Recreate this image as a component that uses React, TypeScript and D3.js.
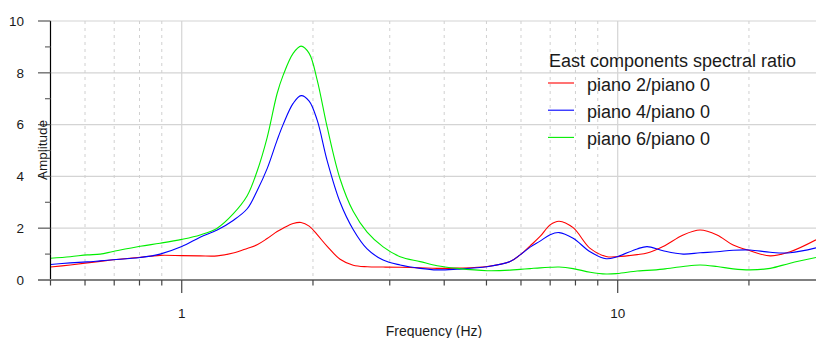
import React from "react";
import * as d3 from "d3";

// frequencies (Hz)
const freq = [
  0.5, 0.555, 0.607, 0.65, 0.696, 0.803, 0.892, 1.0, 1.102, 1.206, 1.312, 1.413,
  1.489, 1.57, 1.655, 1.708, 1.801, 1.878, 1.96, 2.045, 2.156, 2.308, 2.473,
  2.662, 2.897, 3.169, 3.523, 3.853, 4.281, 5.017, 5.665, 5.972, 6.298, 6.637,
  6.998, 7.338, 7.902, 8.644, 9.406, 9.97, 11.08, 11.68, 12.71, 14.13, 15.45,
  16.9, 18.4, 20.12, 22.37, 24.86, 28.5,
];

const piano2 = [
  0.5, 0.58, 0.66, 0.72, 0.78, 0.88, 0.95, 0.94, 0.93, 0.93, 1.04, 1.22, 1.36,
  1.6, 1.87, 2.0, 2.18, 2.22, 2.08, 1.75, 1.3, 0.8, 0.57, 0.51, 0.5, 0.49, 0.47,
  0.45, 0.46, 0.52, 0.71, 0.97, 1.32, 1.68, 2.13, 2.27, 2.02, 1.22, 0.91, 0.9,
  0.98, 1.04, 1.29, 1.74, 1.93, 1.74, 1.35, 1.13, 0.93, 1.09, 1.55,
];

const piano4 = [
  0.6, 0.66, 0.7, 0.74, 0.78, 0.87, 1.0, 1.29, 1.65, 1.93, 2.3, 2.75, 3.45, 4.3,
  5.4, 6.0, 6.82, 7.12, 6.91, 6.17, 4.6, 3.0, 1.95, 1.2, 0.77, 0.58, 0.45, 0.39,
  0.42, 0.51, 0.71, 0.97, 1.27, 1.5, 1.75, 1.83, 1.61, 1.09, 0.82, 0.9, 1.2,
  1.29, 1.13, 1.0, 1.05, 1.09, 1.15, 1.16, 1.07, 1.05, 1.24,
];

const piano6 = [
  0.84, 0.9, 0.97, 1.0, 1.1, 1.3, 1.42, 1.57, 1.74, 2.0, 2.55, 3.25, 4.2, 5.5,
  7.2, 7.9, 8.75, 9.03, 8.75, 7.72, 5.9, 3.9, 2.65, 1.85, 1.28, 0.9, 0.71, 0.55,
  0.45, 0.36, 0.38, 0.41, 0.44, 0.47, 0.49, 0.5, 0.44, 0.3, 0.23, 0.25, 0.35,
  0.37, 0.42, 0.52, 0.58, 0.52, 0.43, 0.39, 0.45, 0.65, 0.87,
];

const seriesNames = ["piano 2/piano 0", "piano 4/piano 0", "piano 6/piano 0"];
const seriesColors = ["#ff0000", "#0000ff", "#00ee00"];
const legendTitle = "East components spectral ratio";

const xMajor = [1, 10];
const xMinor = [0.5, 0.6, 0.7, 0.8, 0.9, 2, 3, 4, 5, 6, 7, 8, 9, 20];
const yMajor = [0, 2, 4, 6, 8, 10];
const yMinor = [1, 3, 5, 7, 9];

const width = 816;
const height = 338;
const font = "'Liberation Sans', Arial, sans-serif";

export default function App() {
  const x = d3.scaleLog().domain([0.5, 28.5]).range([50.5, 816]);
  const y = d3.scaleLinear().domain([0, 10]).range([280, 21]);

  const line = d3
    .line<number>()
    .x((_, i) => x(freq[i]))
    .y((d) => y(d))
    .curve(d3.curveCatmullRom.alpha(0.5));

  const series = [piano2, piano4, piano6];

  return (
    <svg
      width={width}
      height={height}
      style={{ position: "absolute", left: 0, top: 0 }}
      fontFamily={font}
    >
      {/* horizontal grid */}
      {yMajor
        .filter((v) => v > 0)
        .map((v) => (
          <line
            key={"hg" + v}
            x1={38}
            x2={width}
            y1={y(v)}
            y2={y(v)}
            stroke="#d4d4d4"
            strokeWidth={1.2}
          />
        ))}
      {/* vertical grid */}
      {xMinor
        .filter((v) => v > 0.5)
        .map((v) => (
          <line
            key={"vg" + v}
            x1={x(v)}
            x2={x(v)}
            y1={y(10)}
            y2={y(0)}
            stroke="#d0d0d0"
            strokeDasharray="3,4"
          />
        ))}
      {xMajor.map((v) => (
        <line
          key={"vG" + v}
          x1={x(v)}
          x2={x(v)}
          y1={y(10)}
          y2={y(0)}
          stroke="#d4d4d4"
          strokeWidth={1.2}
        />
      ))}

      {/* curves */}
      {series.map((s, i) => (
        <path
          key={"s" + i}
          d={line(s) || ""}
          fill="none"
          stroke={seriesColors[i]}
          strokeWidth={1.1}
        />
      ))}

      {/* y axis */}
      <line x1={50.5} x2={50.5} y1={y(10)} y2={y(0)} stroke="#000" strokeWidth={1.2} />
      {yMajor.map((v) => (
        <line key={"yt" + v} x1={38} x2={50.5} y1={y(v)} y2={y(v)} stroke="#666" strokeWidth={1.2} />
      ))}
      {yMinor.map((v) => (
        <line key={"ym" + v} x1={45} x2={50.5} y1={y(v)} y2={y(v)} stroke="#666" strokeWidth={1.2} />
      ))}
      {yMajor.map((v) => (
        <text
          key={"yl" + v}
          x={24}
          y={y(v)}
          dy="0.35em"
          textAnchor="end"
          fontSize={13.5}
          fill="#1a1a1a"
        >
          {v}
        </text>
      ))}

      {/* x axis */}
      <line x1={38} x2={width} y1={280} y2={280} stroke="#808080" strokeWidth={2} />
      {xMinor.map((v) => (
        <line key={"xm" + v} x1={x(v)} x2={x(v)} y1={280} y2={285.5} stroke="#444" strokeWidth={1.2} />
      ))}
      {xMajor.map((v) => (
        <line key={"xt" + v} x1={x(v)} x2={x(v)} y1={280} y2={293} stroke="#444" strokeWidth={1.2} />
      ))}
      {xMajor.map((v) => (
        <text
          key={"xl" + v}
          x={x(v)}
          y={318}
          textAnchor="middle"
          fontSize={13.5}
          fill="#1a1a1a"
        >
          {v}
        </text>
      ))}

      <text x={434} y={335.5} textAnchor="middle" fontSize={14} fill="#1a1a1a">
        Frequency (Hz)
      </text>
      <text
        transform="translate(47,150) rotate(-90)"
        textAnchor="middle"
        fontSize={13.5}
        fill="#1a1a1a"
      >
        Amplitude
      </text>

      {/* legend */}
      <text x={549} y={67.3} fontSize={18} fill="#1a1a1a">
        {legendTitle}
      </text>
      {seriesNames.map((name, i) => (
        <g key={"lg" + i} transform={`translate(548,${83 + i * 27.2})`}>
          <line x1={0} x2={26} y1={0} y2={0} stroke={seriesColors[i]} strokeWidth={1.1} />
          <text x={39} y={7.8} fontSize={18} fill="#1a1a1a">
            {name}
          </text>
        </g>
      ))}
    </svg>
  );
}
